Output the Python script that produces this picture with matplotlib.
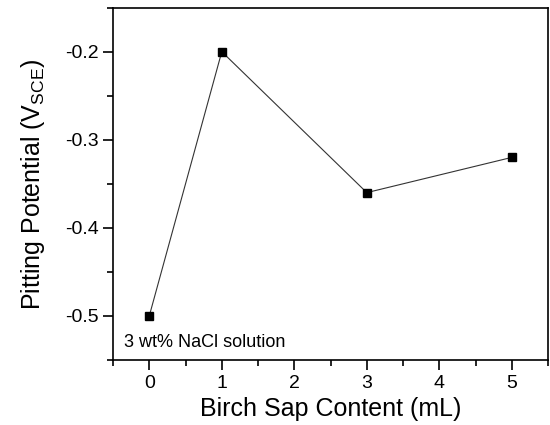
import matplotlib
matplotlib.use("Agg")
import matplotlib.pyplot as plt
from matplotlib.ticker import MultipleLocator

plt.rcParams['font.family'] = ['Liberation Sans', 'DejaVu Sans']
plt.rcParams['mathtext.default'] = 'regular'

# data
sap_content = [0, 1, 3, 5]
pitting_pot = [-0.50, -0.20, -0.36, -0.32]

fig = plt.figure(figsize=(5.5, 4.25), dpi=100)
ax = fig.add_axes([0.2055, 0.153, 0.791, 0.829])

ax.plot(sap_content, pitting_pot, color='#333333', lw=0.8,
        marker='s', ms=5.5, mfc='black', mec='black')

ax.set_xlim(-0.5, 5.5)
ax.set_ylim(-0.55, -0.15)
ax.xaxis.set_major_locator(MultipleLocator(1))
ax.xaxis.set_minor_locator(MultipleLocator(0.5))
ax.yaxis.set_minor_locator(MultipleLocator(0.05))
ax.set_yticks([-0.5, -0.4, -0.3, -0.2])
ax.set_yticklabels(['-0.5', '-0.4', '-0.3', '-0.2'])

ax.tick_params(which='major', direction='out', length=7, width=1.2, labelsize=14)
ax.tick_params(which='minor', direction='out', length=4, width=1.2)
for s in ax.spines.values():
    s.set_linewidth(1.2)

ax.set_xlabel('Birch Sap Content (mL)', fontsize=18, labelpad=4)
ax.set_ylabel('Pitting Potential (V$_{SCE}$)', fontsize=18, labelpad=13)

ax.text(0.025, 0.05, '3 wt% NaCl solution', transform=ax.transAxes,
        fontsize=13, va='center', ha='left')

fig.savefig('out.png', dpi=100)
